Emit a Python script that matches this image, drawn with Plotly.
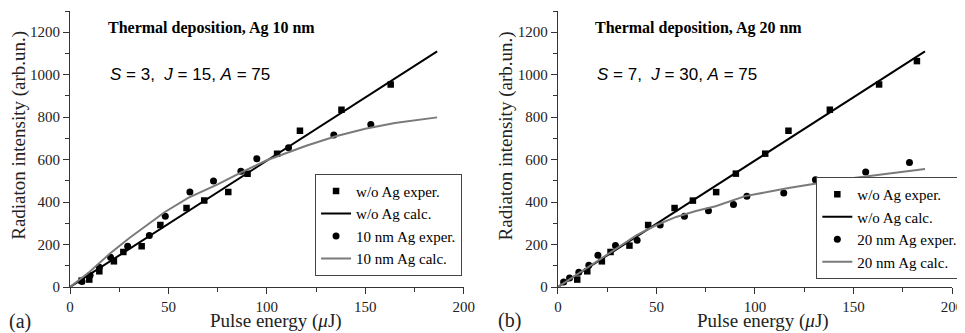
import plotly.graph_objects as go

# ---------------- data ----------------
# Panel (a): Ag 10 nm
a_sq_x = [5.9, 9.8, 14.9, 22.3, 27.1, 36.4, 45.9, 59.2, 68.2, 80.4, 90.2, 105.2, 116.8, 137.9, 162.9]
a_sq_y = [30, 35, 74, 121, 165, 192, 292, 372, 407, 447, 534, 628, 736, 835, 954]
a_ci_x = [6.1, 10.2, 14.9, 20.6, 29.3, 40.3, 48.4, 60.9, 72.9, 86.8, 94.9, 111.0, 134.0, 152.8]
a_ci_y = [26, 55, 93, 140, 192, 243, 333, 447, 499, 545, 604, 656, 716, 765]
a_calc0_x = [0, 186.5]
a_calc0_y = [0, 1110]
a_calc1_x = [0, 10, 20, 30, 48, 60, 75, 87, 100, 120, 135, 150, 165, 186.5]
a_calc1_y = [0, 72, 155, 230, 352, 420, 483, 540, 597, 665, 710, 745, 772, 799]

# Panel (b): Ag 20 nm
b_sq_x = [9.8, 14.9, 22.3, 26.7, 36.3, 45.8, 59.2, 68.5, 80.3, 90.3, 105.2, 117.0, 138.0, 163.0, 182.2]
b_sq_y = [35, 74, 121, 165, 195, 292, 372, 407, 447, 534, 628, 736, 835, 954, 1064]
b_ci_x = [2.9, 5.9, 10.6, 15.7, 20.3, 29.2, 40.2, 51.9, 64.2, 76.4, 89.1, 95.9, 114.6, 130.7, 156.2, 178.4]
b_ci_y = [24, 42, 69, 102, 149, 195, 220, 292, 333, 359, 388, 427, 443, 505, 542, 587]
b_calc0_x = [0, 186.3]
b_calc0_y = [0, 1110]
b_calc1_x = [0, 10, 20, 30, 40, 50, 60, 70, 80, 95, 117, 143, 160, 186.3]
b_calc1_y = [0, 62, 124, 186, 244, 292, 330, 358, 380, 428, 466, 505, 525, 556]

names_a = ["w/o Ag exper.", "w/o Ag calc.", "10 nm Ag exper.", "10 nm Ag calc."]
names_b = ["w/o Ag exper.", "w/o Ag calc.", "20 nm Ag exper.", "20 nm Ag calc."]

SERIF = "Liberation Serif"
SANS = "Liberation Sans"
GRAY = "#7a7a7a"

fig = go.Figure()

def add_panel(xa, ya, leg, names, sqx, sqy, c0x, c0y, cix, ciy, c1x, c1y):
    fig.add_trace(go.Scatter(x=sqx, y=sqy, mode="markers", name=names[0],
                             marker=dict(symbol="square", size=6.5, color="black"),
                             xaxis=xa, yaxis=ya, legend=leg))
    fig.add_trace(go.Scatter(x=c0x, y=c0y, mode="lines", name=names[1],
                             line=dict(color="black", width=2),
                             xaxis=xa, yaxis=ya, legend=leg))
    fig.add_trace(go.Scatter(x=cix, y=ciy, mode="markers", name=names[2],
                             marker=dict(symbol="circle", size=7, color="black"),
                             xaxis=xa, yaxis=ya, legend=leg))
    fig.add_trace(go.Scatter(x=c1x, y=c1y, mode="lines", name=names[3],
                             line=dict(color=GRAY, width=2),
                             xaxis=xa, yaxis=ya, legend=leg))

add_panel("x", "y", "legend", names_a, a_sq_x, a_sq_y, a_calc0_x, a_calc0_y,
          a_ci_x, a_ci_y, a_calc1_x, a_calc1_y)
add_panel("x2", "y2", "legend2", names_b, b_sq_x, b_sq_y, b_calc0_x, b_calc0_y,
          b_ci_x, b_ci_y, b_calc1_x, b_calc1_y)

axis_common = dict(showline=True, linecolor="#333", linewidth=1.2, mirror=False,
                   showgrid=False, zeroline=False, ticks="outside", ticklen=6,
                   tickwidth=1, tickcolor="#333",
                   tickfont=dict(family=SERIF, size=15, color="#222"))

xcommon = dict(axis_common, range=[0, 200], tickvals=[0, 50, 100, 150, 200],
               minor=dict(dtick=25, ticks="outside", ticklen=4, tickcolor="#333"))
ycommon = dict(axis_common, range=[0, 1300], tickvals=[0, 200, 400, 600, 800, 1000, 1200],
               minor=dict(dtick=100, ticks="outside", ticklen=4, tickcolor="#333"))

# The page body has an 8px margin, so the figure is drawn 8px in from the top-left.
fig.update_layout(
    width=957, height=325,
    margin=dict(l=62, r=12.3, t=3, b=45.7),
    paper_bgcolor="white", plot_bgcolor="white",
    xaxis=dict(xcommon, domain=[0, 0.4464], anchor="y"),
    yaxis=dict(ycommon, anchor="x"),
    xaxis2=dict(xcommon, domain=[0.5532, 1], anchor="y2"),
    yaxis2=dict(ycommon, anchor="x2"),
    legend=dict(x=0.444, y=0.041, xanchor="right", yanchor="bottom",
                bgcolor="white", bordercolor="#444", borderwidth=1,
                font=dict(family=SERIF, size=15, color="black"),
                itemwidth=30, tracegroupgap=0, traceorder="normal"),
    legend2=dict(x=1.0117, y=0.029, xanchor="right", yanchor="bottom",
                 bgcolor="white", bordercolor="#444", borderwidth=1,
                 font=dict(family=SERIF, size=15, color="black"),
                 itemwidth=30, tracegroupgap=0, traceorder="normal"),
)

ann = []
ann.append(dict(text="<b>Thermal deposition, Ag 10 nm</b>", x=0.0408, y=0.9385,
                xanchor="left", yanchor="middle", font=dict(family=SERIF, size=16, color="black")))
ann.append(dict(text="<b>Thermal deposition, Ag 20 nm</b>", x=0.593, y=0.9385,
                xanchor="left", yanchor="middle", font=dict(family=SERIF, size=16, color="black")))
ann.append(dict(text="<i>S</i> = 3,&nbsp; <i>J</i> = 15, <i>A</i> = 75", x=0.0427, y=0.771,
                xanchor="left", yanchor="middle", font=dict(family=SANS, size=17, color="black")))
ann.append(dict(text="<i>S</i> = 7,&nbsp; <i>J</i> = 30, <i>A</i> = 75", x=0.5948, y=0.771,
                xanchor="left", yanchor="middle", font=dict(family=SANS, size=17, color="black")))
for xc in [0.234, 0.7854]:
    ann.append(dict(text="Pulse energy (<i>\u03bc</i>J)", x=xc, y=-0.1245,
                    xanchor="center", yanchor="middle",
                    font=dict(family=SERIF, size=19, color="#222")))
for xc in [(19 - 70) / 882.7, (506 - 70) / 882.7]:
    ann.append(dict(text="Radiaton intensity (arb.un.)", x=xc, y=0.548, textangle=-90,
                    xanchor="center", yanchor="middle",
                    font=dict(family=SERIF, size=19, color="#222")))
ann.append(dict(text="(a)", x=(20 - 70) / 882.7, y=(287.3 - 322) / 276.3,
                xanchor="center", yanchor="middle", font=dict(family=SERIF, size=20, color="#222")))
ann.append(dict(text="(b)", x=(510 - 70) / 882.7, y=(287.3 - 321) / 276.3,
                xanchor="center", yanchor="middle", font=dict(family=SERIF, size=20, color="#222")))

for a in ann:
    a.update(xref="paper", yref="paper", showarrow=False)
fig.update_layout(annotations=ann)

fig.write_html("out.html")
